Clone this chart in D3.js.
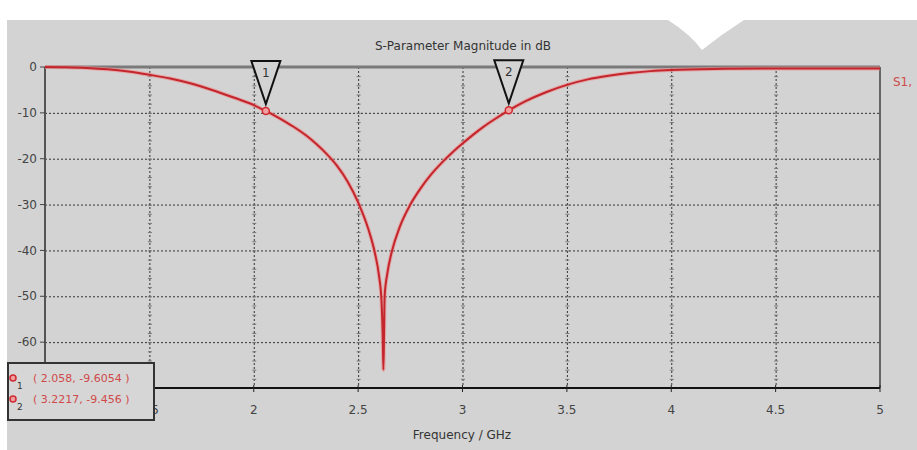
<!DOCTYPE html>
<html>
<head>
<meta charset="utf-8">
<script src="https://cdn.jsdelivr.net/npm/d3@7"></script>
<style>
  body { margin: 0; background: #fff; }
  text { font-family: "DejaVu Sans", sans-serif; }
</style>
</head>
<body>
<div id="chart"></div>
<script>
//data
const freq = [1.0, 1.1, 1.2, 1.3, 1.4, 1.5, 1.6, 1.7, 1.8, 1.9, 2.0, 2.058, 2.1, 2.15, 2.2, 2.25, 2.3, 2.35, 2.4, 2.45, 2.5, 2.55, 2.58, 2.6, 2.612, 2.618, 2.621, 2.624, 2.627, 2.64, 2.66, 2.7, 2.75, 2.8, 2.85, 2.9, 2.95, 3.0, 3.05, 3.1, 3.15, 3.2217, 3.3, 3.4, 3.5, 3.6, 3.7, 3.8, 3.9, 4.0, 4.25, 4.5, 4.75, 5.0];
const s11 = [0, -0.05, -0.2, -0.5, -1.0, -1.7, -2.5, -3.6, -5.0, -6.6, -8.3, -9.6054, -10.6, -11.9, -13.3, -14.9, -16.8, -19.0, -21.6, -25.0, -29.5, -35.5, -40.5, -45.5, -51, -59, -66, -59, -50, -45, -40.5, -34.8, -30, -26.4, -23.4, -20.9, -18.7, -16.7, -14.8, -13.05, -11.5, -9.456, -7.5, -5.5, -3.9, -2.7, -1.9, -1.3, -0.9, -0.65, -0.4, -0.3, -0.3, -0.3];
const xTicks = [1, 1.5, 2, 2.5, 3, 3.5, 4, 4.5, 5];
const yTicks = [0, -10, -20, -30, -40, -50, -60];
const markerFreq = [2.058, 3.2217];
const markerVal = [-9.6054, -9.456];
const markerText = ["( 2.058, -9.6054 )", "( 3.2217, -9.456 )"];

//size
const width = 917, height = 450;
const margin = { top: 67, right: 37, bottom: 62, left: 45 };
const innerWidth = width - margin.left - margin.right;
const innerHeight = height - margin.top - margin.bottom;

const svg = d3.select("#chart").append("svg")
  .attr("width", width)
  .attr("height", height);

//background
svg.append("rect").attr("x", 7).attr("y", 20).attr("width", width - 7).attr("height", height - 20).attr("fill", "#d3d3d3");
svg.append("path").attr("d", "M668 20 L744 20 Q722 34 702 50 Q690 34 668 20 Z").attr("fill", "#fff");

const x = d3.scaleLinear().domain([1, 5]).range([margin.left, margin.left + innerWidth]);
const y = d3.scaleLinear().domain([-70, 0]).range([margin.top + innerHeight, margin.top]);

//grid
const grid = svg.append("g").attr("stroke", "#333").attr("stroke-width", 1).attr("stroke-dasharray", "2,2");
grid.selectAll("line.h").data(yTicks.filter((d) => d !== 0)).join("line")
  .attr("x1", x(1)).attr("x2", x(5))
  .attr("y1", (d) => y(d) + 0.5).attr("y2", (d) => y(d) + 0.5);
grid.selectAll("line.v").data(xTicks.slice(1, -1)).join("line")
  .attr("x1", (d) => x(d) + 0.5).attr("x2", (d) => x(d) + 0.5)
  .attr("y1", y(0)).attr("y2", y(-70));

//minor ticks on vertical grid lines
const minor = d3.range(-68, 0, 2);
const minorG = svg.append("g").attr("stroke", "#777").attr("stroke-width", 1);
xTicks.slice(1, -1).forEach((t) => {
  minorG.selectAll(null).data(minor).join("line")
    .attr("x1", x(t) - 1.5).attr("x2", x(t) + 2.5)
    .attr("y1", (d) => y(d) + 0.5).attr("y2", (d) => y(d) + 0.5);
});

//frame
svg.append("line").attr("x1", x(1)).attr("x2", x(5)).attr("y1", y(0)).attr("y2", y(0)).attr("stroke", "#7a7a7a").attr("stroke-width", 3);
svg.append("line").attr("x1", x(1)).attr("x2", x(1)).attr("y1", y(0)).attr("y2", y(-70)).attr("stroke", "#555").attr("stroke-width", 2);
svg.append("line").attr("x1", x(5)).attr("x2", x(5)).attr("y1", y(0)).attr("y2", y(-70)).attr("stroke", "#666").attr("stroke-width", 2);
svg.append("line").attr("x1", x(1)).attr("x2", x(5)).attr("y1", y(-70)).attr("y2", y(-70)).attr("stroke", "#111").attr("stroke-width", 2);

//axis ticks + labels
svg.append("g").selectAll("line").data(xTicks).join("line")
  .attr("x1", (d) => x(d)).attr("x2", (d) => x(d))
  .attr("y1", y(-70) - 3).attr("y2", y(-70) + 4)
  .attr("stroke", "#222");
svg.append("g").selectAll("line").data(yTicks).join("line")
  .attr("x1", x(1) - 5).attr("x2", x(1))
  .attr("y1", (d) => y(d)).attr("y2", (d) => y(d))
  .attr("stroke", "#444");

svg.append("g").selectAll("text").data(xTicks).join("text")
  .attr("x", (d) => x(d)).attr("y", y(-70) + 26)
  .attr("text-anchor", "middle").attr("font-size", 12).attr("fill", "#444")
  .text((d) => d);
svg.append("g").selectAll("text").data(yTicks).join("text")
  .attr("x", x(1) - 8).attr("y", (d) => y(d)).attr("dy", "0.35em")
  .attr("text-anchor", "end").attr("font-size", 12).attr("fill", "#444")
  .text((d) => d);

//titles
svg.append("text").attr("x", 463).attr("y", 50).attr("text-anchor", "middle")
  .attr("font-size", 12).attr("fill", "#333").text("S-Parameter Magnitude in dB");
svg.append("text").attr("x", 462).attr("y", 439).attr("text-anchor", "middle")
  .attr("font-size", 12).attr("fill", "#333").text("Frequency / GHz");
svg.append("text").attr("x", 893).attr("y", 86).attr("font-size", 12).attr("fill", "#d04a4a").text("S1,");

//curve
const pts = freq.map((f, i) => [f, s11[i]]);
const line = d3.line().x((d) => x(d[0])).y((d) => y(d[1])).curve(d3.curveMonotoneX);
svg.append("path").datum(pts).attr("d", line).attr("fill", "none")
  .attr("stroke", "#f08a8a").attr("stroke-width", 4).attr("opacity", 0.6);
svg.append("path").datum(pts).attr("d", line).attr("fill", "none")
  .attr("stroke", "#c3262c").attr("stroke-width", 2);

//markers
const mk = svg.append("g").selectAll("g").data(markerFreq).join("g")
  .attr("transform", (d, i) => `translate(${x(d)},${y(markerVal[i])})`);
mk.append("path")
  .attr("d", "M-14.5,-50 L14.5,-50 L0,-7 Z")
  .attr("fill", "#d3d3d3").attr("stroke", "#111").attr("stroke-width", 2);
mk.append("text").attr("y", -34).attr("text-anchor", "middle")
  .attr("font-size", 12).attr("fill", "#333").text((d, i) => i + 1);
mk.append("circle").attr("r", 3.5).attr("fill", "#f0a0a0").attr("stroke", "#d02a30").attr("stroke-width", 1.5);

//legend
const lg = svg.append("g");
lg.append("rect").attr("x", 8).attr("y", 363).attr("width", 146).attr("height", 57)
  .attr("fill", "#d6d6d6").attr("stroke", "#333").attr("stroke-width", 2);
const row = lg.selectAll("g").data(markerText).join("g")
  .attr("transform", (d, i) => `translate(0,${378 + i * 21})`);
row.append("circle").attr("cx", 13).attr("cy", 0).attr("r", 3).attr("fill", "#f0a0a0").attr("stroke", "#d02a30").attr("stroke-width", 1.5);
row.append("text").attr("x", 17).attr("y", 11).attr("font-size", 9).attr("fill", "#333").text((d, i) => i + 1);
row.append("text").attr("x", 33).attr("y", 0).attr("dy", "0.35em")
  .attr("font-size", 11).attr("fill", "#d04a4a").text((d) => d);
</script>
</body>
</html>
